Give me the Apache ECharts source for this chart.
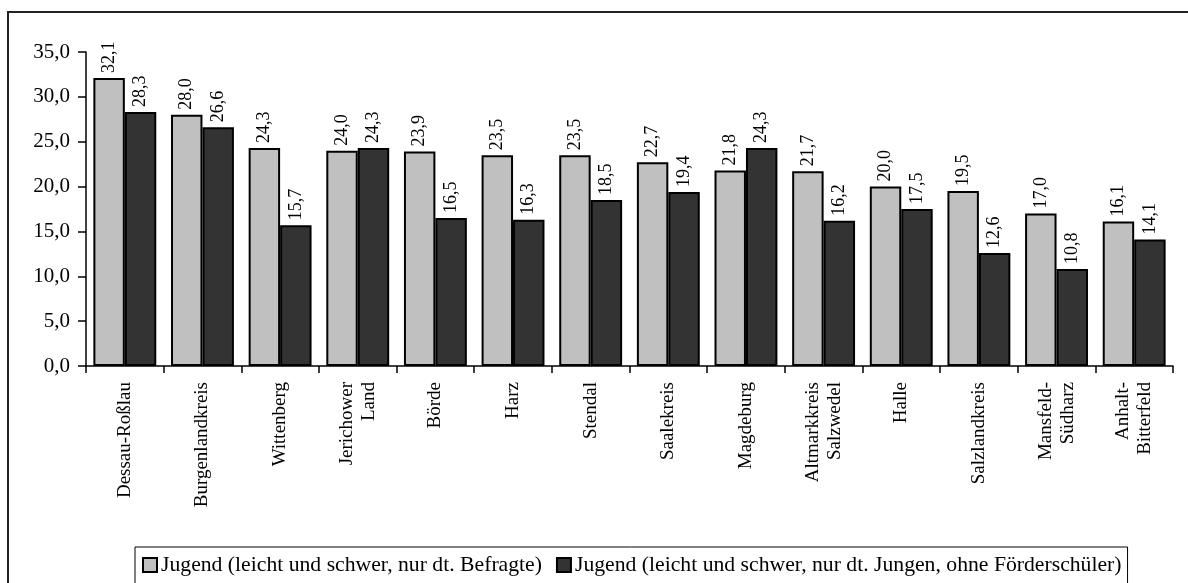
<!DOCTYPE html>
<html>
<head>
<meta charset="utf-8">
<script src="https://cdn.jsdelivr.net/npm/echarts@6/dist/echarts.min.js"></script>
<style>
html,body{margin:0;padding:0;background:#fff;}
#chart{width:1188px;height:583px;}
</style>
</head>
<body>
<div id="chart"></div>
<script>
const categories = ["Dessau-Roßlau","Burgenlandkreis","Wittenberg","Jerichower\nLand","Börde","Harz","Stendal","Saalekreis","Magdeburg","Altmarkkreis\nSalzwedel","Halle","Salzlandkreis","Mansfeld-\nSüdharz","Anhalt-\nBitterfeld"];
const seriesNames = ["Jugend (leicht und schwer, nur dt. Befragte)","Jugend (leicht und schwer, nur dt. Jungen, ohne Förderschüler)"];
const valuesAll = [32.1,28.0,24.3,24.0,23.9,23.5,23.5,22.7,21.8,21.7,20.0,19.5,17.0,16.1];
const valuesBoys = [28.3,26.6,15.7,24.3,16.5,16.3,18.5,19.4,24.3,16.2,17.5,12.6,10.8,14.1];

const FONT = '"Liberation Serif", "Times New Roman", serif';
const fmt = v => v.toFixed(1).replace('.', ',');

const chart = echarts.init(document.getElementById('chart'), null, {renderer:'canvas'});
const barLabel = {
  show:true, position:'top', rotate:90, align:'left', verticalAlign:'middle',
  distance:5, fontFamily:FONT, fontSize:18, color:'#000',
  formatter: p => fmt(p.value)
};
chart.setOption({
  animation:false,
  backgroundColor:'#fff',
  graphic:[{type:'rect', shape:{x:8,y:12,width:1300,height:700}, style:{fill:'none', stroke:'#222', lineWidth:2}, silent:true, z:-1}],
  grid:{left:86, right:15, top:52, bottom:217, containLabel:false},
  legend:{
    left:135, top:547, orient:'horizontal',
    padding:[7,6,8,7], itemGap:14, itemWidth:14, itemHeight:14, icon:'rect',
    borderColor:'#000', borderWidth:1,
    textStyle:{fontFamily:FONT, fontSize:21.7, color:'#000', padding:[0,0,0,-1]},
    data:seriesNames
  },
  xAxis:{
    type:'category', data:categories,
    axisLine:{lineStyle:{color:'#000', width:1.5}},
    axisTick:{show:true, alignWithLabel:false, length:7, lineStyle:{color:'#000', width:1.5}},
    axisLabel:{rotate:90, fontFamily:FONT, fontSize:19, color:'#000', margin:16, lineHeight:22, interval:0}
  },
  yAxis:{
    type:'value', min:0, max:35, interval:5,
    axisLine:{show:true, lineStyle:{color:'#000', width:1.5}},
    axisTick:{show:true, length:8, lineStyle:{color:'#000', width:1.5}},
    splitLine:{show:false},
    axisLabel:{fontFamily:FONT, fontSize:21, color:'#000', margin:16, formatter: v => fmt(v)}
  },
  series:[
    {name:seriesNames[0], type:'bar', data:valuesAll, barGap:'0%', barCategoryGap:'19%',
     itemStyle:{color:'#c0c0c0', borderColor:'#000', borderWidth:2}, label:barLabel},
    {name:seriesNames[1], type:'bar', data:valuesBoys, barGap:'0%', barCategoryGap:'19%',
     itemStyle:{color:'#333333', borderColor:'#000', borderWidth:2}, label:barLabel}
  ]
});
</script>
</body>
</html>
